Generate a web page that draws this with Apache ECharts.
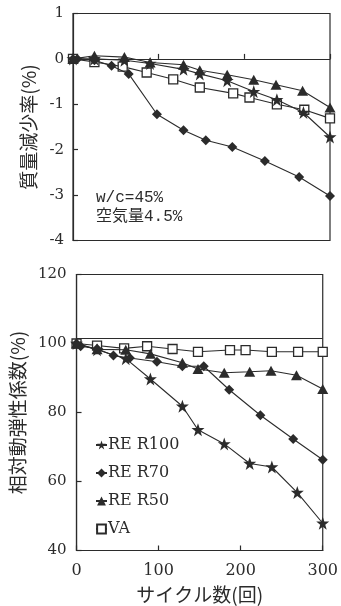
<!DOCTYPE html>
<html>
<head>
<meta charset="utf-8">
<script src="https://cdn.jsdelivr.net/npm/echarts@6/dist/echarts.min.js"></script>
<style>
html,body{margin:0;padding:0;background:#fff;}
#c{width:341px;height:606px;}
</style>
</head>
<body>
<div id="c"></div>
<script>
// ---- data (cycles vs. mass loss % and relative dynamic modulus %) ----
const cyclesR100 = [0, 25, 60, 90, 129, 148, 180, 211, 238, 269, 300];
const massR100   = [0, 0, -0.03, -0.10, -0.23, -0.33, -0.48, -0.72, -0.90, -1.18, -1.72];
const dynR100    = [100, 98.2, 95.6, 89.7, 81.8, 75.0, 70.9, 65.2, 64.2, 56.8, 47.9];

const cyclesR70 = [0, 5, 25, 45, 65, 98, 129, 155, 186, 224, 264, 300];
const massR70   = [0, 0, -0.03, -0.15, -0.33, -1.22, -1.57, -1.79, -1.94, -2.25, -2.60, -3.02];
const dynR70    = [100, 99.2, 98.5, 96.5, 95.8, 94.7, 93.4, 93.4, 86.6, 79.2, 72.3, 66.3];

const cyclesR50 = [0, 25, 60, 90, 129, 148, 180, 211, 237, 268, 300];
const massR50   = [0, 0.07, 0.04, -0.08, -0.13, -0.25, -0.35, -0.46, -0.57, -0.70, -1.07];
const dynR50    = [100, 98.3, 98.2, 97.0, 94.4, 92.6, 91.5, 91.8, 92.1, 90.8, 86.8];

const cyclesVA = [0, 25, 58, 86, 117, 148, 187, 206, 238, 270, 300];
const massVA   = [0, -0.07, -0.17, -0.30, -0.45, -0.63, -0.76, -0.85, -1.00, -1.12, -1.31];
const dynVA    = [100, 99.4, 98.6, 99.2, 98.4, 97.6, 98.1, 98.1, 97.6, 97.6, 97.6];

const seriesNames = ['RE R100', 'RE R70', 'RE R50', 'VA'];
const xTicks = [0, 100, 200, 300];
const massRefLine = 0;
const dynRefLine = 101.4;

// ---- build ----
const INK = '#2b2b2b';
const SERIF = '"DejaVu Serif", "Liberation Serif", serif';
const STAR = 'path://M50,0 L62,34 L99,34 L69,56 L80,92 L50,70 L20,92 L31,56 L1,34 L38,34 Z';
const zip = (xs, ys) => xs.map((x, i) => [x, ys[i]]);

const styles = {
  'RE R100': { symbol: STAR, symbolSize: 13, itemStyle: { color: INK } },
  'RE R70':  { symbol: 'diamond', symbolSize: [10, 10], itemStyle: { color: INK } },
  'RE R50':  { symbol: 'triangle', symbolSize: [11, 10], itemStyle: { color: INK } },
  'VA':      { symbol: 'rect', symbolSize: 9, itemStyle: { color: '#fff', borderColor: INK, borderWidth: 1.3 } }
};

const topData = { 'RE R100': zip(cyclesR100, massR100), 'RE R70': zip(cyclesR70, massR70), 'RE R50': zip(cyclesR50, massR50), 'VA': zip(cyclesVA, massVA) };
const botData = { 'RE R100': zip(cyclesR100, dynR100), 'RE R70': zip(cyclesR70, dynR70), 'RE R50': zip(cyclesR50, dynR50), 'VA': zip(cyclesVA, dynVA) };

const series = [];
seriesNames.forEach((n, k) => {
  [0, 1].forEach(g => {
    const s = Object.assign({
      name: n, type: 'line', xAxisIndex: g, yAxisIndex: g,
      data: g === 0 ? topData[n] : botData[n],
      showAllSymbol: true,
      lineStyle: { color: INK, width: 1.1 },
      animation: false,
      z: 10 - k
    }, styles[n]);
    if (n === 'VA') {
      s.markLine = {
        silent: true, symbol: 'none', label: { show: false },
        lineStyle: { color: INK, width: 1, type: 'solid' },
        data: [{ yAxis: g === 0 ? massRefLine : dynRefLine }]
      };
    }
    series.push(s);
  });
});

const axisCommon = {
  axisLine: { show: true, lineStyle: { color: INK, width: 1.2 } },
  axisTick: { show: true, inside: true, length: 5, lineStyle: { color: INK, width: 1.2 } },
  splitLine: { show: false }
};

const option = {
  backgroundColor: '#fff',
  animation: false,
  grid: [
    { left: 73, top: 13.5, width: 257, height: 227, show: true, borderColor: INK, borderWidth: 1.2 },
    { left: 69, top: 274.5, width: 260, height: 276, show: true, borderColor: INK, borderWidth: 1.2 }
  ],
  xAxis: [
    Object.assign({ type: 'value', gridIndex: 0, min: 0, max: 300, interval: 100, axisLabel: { show: false } }, axisCommon),
    Object.assign({ type: 'value', gridIndex: 1, min: 0, max: 300, interval: 100,
      axisLabel: { show: true, color: INK, fontFamily: SERIF, fontSize: 16, margin: 12,
        formatter: v => xTicks.includes(v) ? String(v) : '' },
      name: 'サイクル数(回)', nameLocation: 'middle', nameGap: 35,
      nameTextStyle: { color: INK, fontFamily: '"Noto Sans CJK JP", sans-serif', fontSize: 19 } }, axisCommon)
  ],
  yAxis: [
    Object.assign({ type: 'value', gridIndex: 0, min: -4, max: 1, interval: 1,
      axisLabel: { color: INK, fontFamily: SERIF, fontSize: 15, margin: 9 },
      name: '質量減少率(%)', nameLocation: 'middle', nameGap: 32, nameRotate: 90,
      nameTextStyle: { color: INK, fontFamily: '"Noto Sans CJK JP", sans-serif', fontSize: 19 } }, axisCommon),
    Object.assign({ type: 'value', gridIndex: 1, min: 40, max: 120, interval: 20,
      axisLabel: { color: INK, fontFamily: SERIF, fontSize: 15, margin: 10 },
      name: '相対動弾性係数(%)', nameLocation: 'middle', nameGap: 41, nameRotate: 90,
      nameTextStyle: { color: INK, fontFamily: '"Noto Sans CJK JP", sans-serif', fontSize: 19 } }, axisCommon)
  ],
  legend: {
    data: seriesNames,
    orient: 'vertical',
    left: 90, top: 432,
    itemWidth: 11, itemHeight: 11, itemGap: 12,
    textStyle: { color: INK, fontFamily: SERIF, fontSize: 16, lineHeight: 16, padding: [0, 0, 0, -4] }
  },
  graphic: [
    { type: 'text', left: 96, top: 190, style: { text: 'w/c=45%', fill: INK, font: '16px "Liberation Mono", "Noto Sans CJK JP", monospace' } },
    { type: 'text', left: 96, top: 209, style: { text: '空気量4.5%', fill: INK, font: '16px "Liberation Mono", "Noto Sans CJK JP", monospace' } }
  ],
  series: series
};

const chart = echarts.init(document.getElementById('c'), null, { renderer: 'canvas' });
chart.setOption(option);
</script>
</body>
</html>
